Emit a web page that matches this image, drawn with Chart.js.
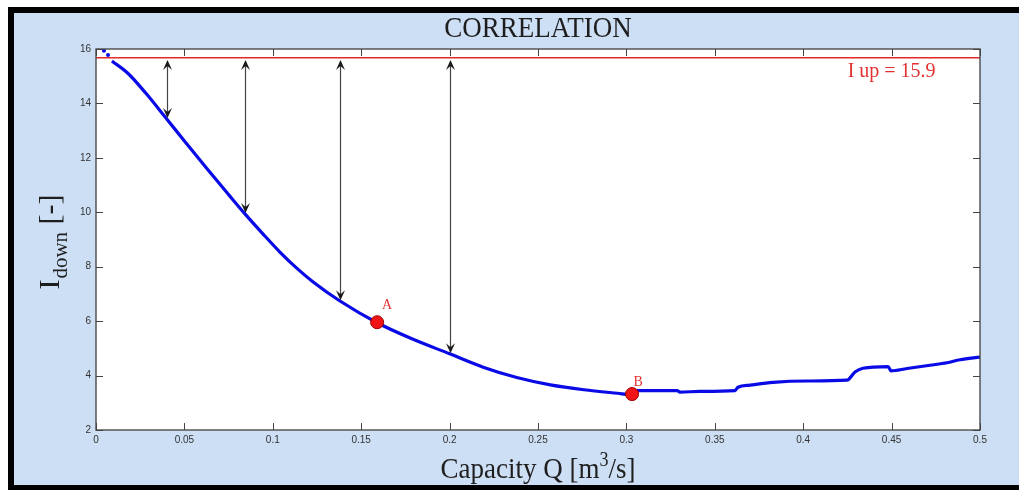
<!DOCTYPE html>
<html><head><meta charset="utf-8">
<script src="https://cdn.jsdelivr.net/npm/chart.js@4.4.1/dist/chart.umd.min.js"></script>
<style>
html,body{margin:0;padding:0;background:#fff;}
#frame{position:absolute;left:8px;top:7px;width:1011px;height:483px;background:#000;}
#wrap{position:absolute;left:14px;top:13px;width:1005px;height:472px;background:#cddff4;}
canvas{display:block;}
</style></head><body>
<div id="frame"></div>
<div id="wrap"><canvas id="c" width="1005" height="472"></canvas></div>
<script>
// ---- data ----
const qValues = [0.009,0.018,0.028,0.039,0.050,0.062,0.075,0.084,0.0945,0.104,0.114,0.123,0.138,0.159,0.178,0.200,0.219,0.238,0.257,0.276,0.295,0.303,0.306,0.3286,0.3303,0.3416,0.3614,0.3631,0.3699,0.3829,0.4021,0.4248,0.4293,0.4338,0.4480,0.4497,0.4587,0.4717,0.4813,0.4887,0.5000];
const iDownValues = [15.56,15.11,14.39,13.51,12.62,11.66,10.65,9.96,9.20,8.54,7.92,7.43,6.74,5.94,5.37,4.80,4.31,3.93,3.66,3.48,3.35,3.30,3.45,3.45,3.39,3.42,3.45,3.57,3.65,3.75,3.80,3.83,4.13,4.27,4.33,4.17,4.26,4.38,4.47,4.58,4.68];
const startDotsQ = [0.0045, 0.0068];
const startDotsI = [15.94, 15.78];
const iUpLine = 15.68;
const iUpLabel = 'I up = 15.9';
const arrowQ = [0.040, 0.084, 0.138, 0.200];
const arrowBottomI = [13.46, 9.97, 6.77, 4.82];
const arrowTopI = 15.6;
const pointNames = ['A', 'B'];
const pointQ = [0.159, 0.3032];
const pointI = [5.96, 3.32];
const xTicks = [0,0.05,0.1,0.15,0.2,0.25,0.3,0.35,0.4,0.45,0.5];
const xTickLabels = ['0','0.05','0.1','0.15','0.2','0.25','0.3','0.35','0.4','0.45','0.5'];
const yTicks = [2,4,6,8,10,12,14,16];
const yTickLabels = ['2','4','6','8','10','12','14','16'];
const chartTitle = 'CORRELATION';
const xTitleParts = ['Capacity Q [m', '3', '/s]'];
const yTitleParts = ['I', 'down', ' [-]'];

const SERIF = '"Liberation Serif","Times New Roman",serif';
const SANS = '"Liberation Sans",Arial,sans-serif';

const decor = {
  id: 'decor',
  beforeDraw(chart) {
    const {ctx, chartArea: a} = chart;
    ctx.save();
    ctx.fillStyle = '#ffffff';
    ctx.fillRect(a.left, a.top, a.right - a.left, a.bottom - a.top);
    ctx.restore();
  },
  afterDatasetsDraw(chart) {
    const {ctx, chartArea: a, scales: {x: xs, y: ys}} = chart;
    ctx.save();
    // arrows
    ctx.strokeStyle = '#444';
    ctx.fillStyle = '#1a1a1a';
    ctx.lineWidth = 1.2;
    arrowQ.forEach((q, i) => {
      const px = Math.round(xs.getPixelForValue(q)) + 0.5;
      const yTop = ys.getPixelForValue(arrowTopI);
      const yBot = ys.getPixelForValue(arrowBottomI[i]);
      ctx.beginPath(); ctx.moveTo(px, yTop + 2); ctx.lineTo(px, yBot - 2); ctx.stroke();
      ctx.beginPath(); ctx.moveTo(px, yTop); ctx.lineTo(px - 4.5, yTop + 10); ctx.lineTo(px, yTop + 6); ctx.lineTo(px + 4.5, yTop + 10); ctx.closePath(); ctx.fill();
      ctx.beginPath(); ctx.moveTo(px, yBot); ctx.lineTo(px - 4.5, yBot - 10); ctx.lineTo(px, yBot - 6); ctx.lineTo(px + 4.5, yBot - 10); ctx.closePath(); ctx.fill();
    });
    // point labels
    ctx.fillStyle = '#e23232';
    ctx.font = '14px ' + SERIF;
    ctx.textAlign = 'center';
    ctx.textBaseline = 'alphabetic';
    const offs = [[10, -13], [6, -8]];
    pointNames.forEach((n, i) => {
      ctx.fillText(n, xs.getPixelForValue(pointQ[i]) + offs[i][0], ys.getPixelForValue(pointI[i]) + offs[i][1]);
    });
    // I up label
    ctx.font = '20px ' + SERIF;
    ctx.fillText(iUpLabel, xs.getPixelForValue(0.45), ys.getPixelForValue(iUpLine) + 19);
    // border
    ctx.strokeStyle = '#4a4a4a';
    ctx.lineWidth = 1.4;
    ctx.strokeRect(a.left, a.top, a.right - a.left, a.bottom - a.top);
    // inner ticks
    ctx.lineWidth = 1;
    ctx.strokeStyle = '#444';
    const tl = 7;
    xTicks.forEach(v => {
      const px = Math.round(xs.getPixelForValue(v)) + 0.5;
      ctx.beginPath();
      ctx.moveTo(px, a.bottom); ctx.lineTo(px, a.bottom - tl);
      ctx.moveTo(px, a.top); ctx.lineTo(px, a.top + tl);
      ctx.stroke();
    });
    yTicks.forEach(v => {
      const py = Math.round(ys.getPixelForValue(v)) + 0.5;
      ctx.beginPath();
      ctx.moveTo(a.left, py); ctx.lineTo(a.left + tl, py);
      ctx.moveTo(a.right, py); ctx.lineTo(a.right - tl, py);
      ctx.stroke();
    });
    ctx.restore();
  },
  afterDraw(chart) {
    const {ctx, chartArea: a} = chart;
    const cx = (a.left + a.right) / 2;
    ctx.save();
    ctx.fillStyle = '#1e1e1e';
    ctx.textBaseline = 'alphabetic';
    // title
    ctx.save();
    ctx.translate(cx, 24);
    ctx.scale(0.9, 1);
    ctx.font = '30px ' + SERIF;
    ctx.textAlign = 'center';
    ctx.fillText(chartTitle, 0, 0);
    ctx.restore();
    // x title with superscript
    ctx.save();
    ctx.translate(cx, 465);
    ctx.scale(0.9, 1);
    ctx.textAlign = 'left';
    ctx.font = '30px ' + SERIF;
    const w1 = ctx.measureText(xTitleParts[0]).width;
    const w3 = ctx.measureText(xTitleParts[2]).width;
    ctx.font = '20px ' + SERIF;
    const w2 = ctx.measureText(xTitleParts[1]).width;
    let sx = -(w1 + w2 + w3) / 2;
    ctx.font = '30px ' + SERIF;
    ctx.fillText(xTitleParts[0], sx, 0);
    ctx.font = '20px ' + SERIF;
    ctx.fillText(xTitleParts[1], sx + w1, -12);
    ctx.font = '30px ' + SERIF;
    ctx.fillText(xTitleParts[2], sx + w1 + w2, 0);
    ctx.restore();
    // y title with subscript
    ctx.save();
    ctx.translate(45, (a.top + a.bottom) / 2 + 3);
    ctx.rotate(-Math.PI / 2);
    ctx.textAlign = 'left';
    ctx.font = '30px ' + SERIF;
    const v1 = ctx.measureText(yTitleParts[0]).width;
    const v3 = ctx.measureText(yTitleParts[2]).width;
    ctx.font = '21px ' + SERIF;
    const v2 = ctx.measureText(yTitleParts[1]).width;
    let sy = -(v1 + v2 + v3) / 2;
    ctx.font = '30px ' + SERIF;
    ctx.fillText(yTitleParts[0], sy, 0);
    ctx.font = '21px ' + SERIF;
    ctx.fillText(yTitleParts[1], sy + v1 + 1, 8);
    ctx.font = '30px ' + SERIF;
    ctx.fillText(yTitleParts[2], sy + v1 + v2 + 1, 0);
    ctx.restore();
    ctx.restore();
  }
};

const curve = qValues.map((q, i) => ({x: q, y: iDownValues[i]}));
const dots = startDotsQ.map((q, i) => ({x: q, y: startDotsI[i]}));
const marks = pointQ.map((q, i) => ({x: q, y: pointI[i]}));

new Chart(document.getElementById('c'), {
  type: 'line',
  data: {
    datasets: [
      {data: marks, showLine: false, pointRadius: 6.5, pointBackgroundColor: '#f01414', pointBorderColor: '#a00000', pointBorderWidth: 1, order: 0},
      {data: curve, borderColor: '#0a0ae6', borderWidth: 3.2, pointRadius: 0, cubicInterpolationMode: 'monotone', fill: false, order: 1},
      {data: dots, showLine: false, pointRadius: 2, pointBackgroundColor: '#0a0ae6', pointBorderWidth: 0, order: 1},
      {data: [{x: 0, y: iUpLine}, {x: 0.5, y: iUpLine}], borderColor: '#e62828', borderWidth: 1.6, pointRadius: 0, order: 2}
    ]
  },
  options: {
    responsive: false,
    animation: false,
    events: [],
    layout: {padding: {top: 36, right: 39, left: 0, bottom: 0}},
    plugins: {legend: {display: false}, tooltip: {enabled: false}, title: {display: false}},
    scales: {
      x: {
        type: 'linear', min: 0, max: 0.5,
        grid: {display: false, drawTicks: false},
        border: {display: false},
        afterBuildTicks: s => { s.ticks = xTicks.map(v => ({value: v})); },
        afterFit: s => { s.height = 55; },
        ticks: {autoSkip: false, maxRotation: 0, padding: 4, color: '#333', font: {family: SANS, size: 10},
          callback: (v, i) => xTickLabels[i]}
      },
      y: {
        type: 'linear', min: 2, max: 16,
        grid: {display: false, drawTicks: false},
        border: {display: false},
        afterBuildTicks: s => { s.ticks = yTicks.map(v => ({value: v})); },
        afterFit: s => { s.width = 82; },
        ticks: {autoSkip: false, padding: 5, color: '#333', font: {family: SANS, size: 10},
          callback: (v, i) => yTickLabels[i]}
      }
    }
  },
  plugins: [decor]
});
</script>
</body></html>
